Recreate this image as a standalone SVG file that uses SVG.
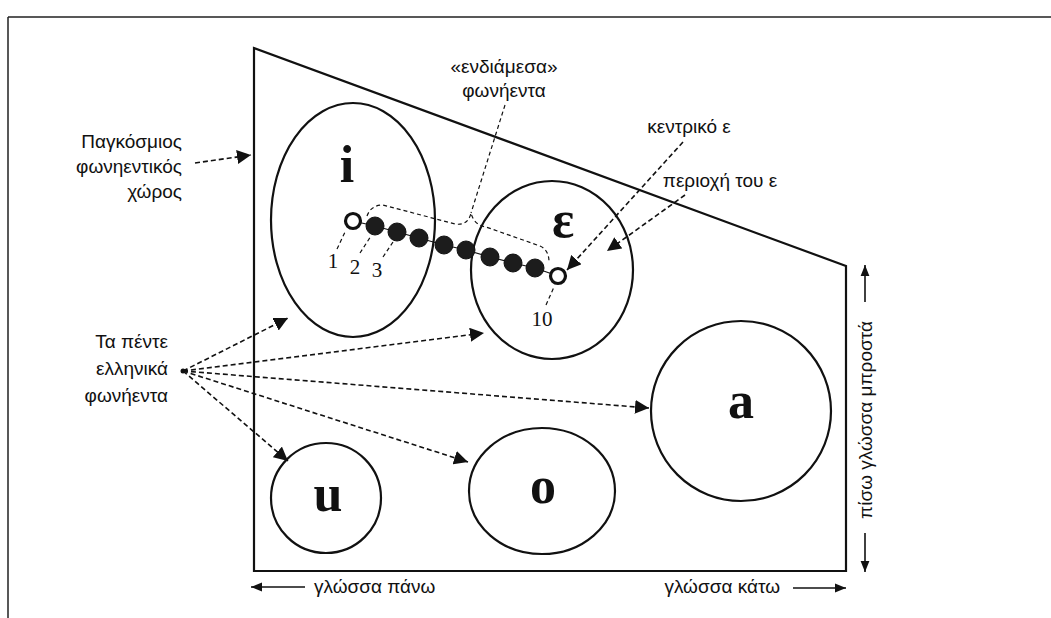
<svg xmlns="http://www.w3.org/2000/svg" width="1051" height="618" viewBox="0 0 1051 618">
<defs>
<style>
.sans{font-family:"Liberation Sans","Noto Sans",sans-serif;font-size:19px;fill:#111}
.ser{font-family:"Liberation Serif","DejaVu Serif",serif;fill:#111}
.big{font-size:52px;font-weight:bold}
.num{font-size:21px}
.shape{fill:none;stroke:#111;stroke-width:2.2}
.dash{fill:none;stroke:#111;stroke-width:1.6;stroke-dasharray:5 3}
.thin{fill:none;stroke:#111;stroke-width:1.2;stroke-dasharray:4 3}
.axis{fill:none;stroke:#111;stroke-width:1.6}
.open{fill:#fff;stroke:#111;stroke-width:3.2}
.fill{fill:#1c1c1c;stroke:#111;stroke-width:1}
</style>
<marker id="ah" viewBox="0 0 10 10" refX="10" refY="5" markerWidth="14" markerHeight="14" markerUnits="userSpaceOnUse" orient="auto">
<path d="M0,0 L10,5 L0,10 z" fill="#111"/>
</marker>
<marker id="ahs" viewBox="0 0 10 10" refX="10" refY="5" markerWidth="11" markerHeight="11" markerUnits="userSpaceOnUse" orient="auto">
<path d="M0,1 L10,5 L0,9 z" fill="#111"/>
</marker>
</defs>
<rect width="1051" height="618" fill="#fff"/>
<g id="frame">
<path d="M8,17 H1051 M8,17 V618" fill="none" stroke="#222" stroke-width="1.5"/>
</g>
<g id="space">
<polygon class="shape" points="254,48 846,266 846,571 254,571" stroke-width="2.4"/>
</g>
<g id="vowel-i">
<ellipse class="shape" cx="353" cy="220" rx="82" ry="117"/>
<text class="ser big" x="347" y="182" text-anchor="middle">i</text>
</g>
<g id="vowel-e">
<ellipse class="shape" cx="552" cy="270" rx="81" ry="89"/>
<text class="ser big" x="563" y="237" text-anchor="middle">ε</text>
</g>
<g id="vowel-a">
<circle class="shape" cx="741" cy="411" r="90"/>
<text class="ser big" x="741" y="418" text-anchor="middle">a</text>
</g>
<g id="vowel-o">
<ellipse class="shape" cx="542" cy="491" rx="73" ry="63"/>
<text class="ser big" x="543" y="503" text-anchor="middle">o</text>
</g>
<g id="vowel-u">
<circle class="shape" cx="326" cy="498" r="55"/>
<text class="ser big" x="328" y="511" text-anchor="middle">u</text>
</g>
<g id="chain">
<polyline points="353,221 375,226 397,232 419,238 444,245 466,250 490,257 513,263 535,268 558,276" fill="none" stroke="#111" stroke-width="1.2"/>
<circle class="fill" cx="375" cy="226" r="9"/>
<circle class="fill" cx="397" cy="232" r="9"/>
<circle class="fill" cx="419" cy="238" r="9"/>
<circle class="fill" cx="444" cy="245" r="9"/>
<circle class="fill" cx="466" cy="250" r="9"/>
<circle class="fill" cx="490" cy="257" r="9"/>
<circle class="fill" cx="513" cy="263" r="9"/>
<circle class="fill" cx="535" cy="268" r="9"/>
<circle class="open" cx="353" cy="221" r="7.5"/>
<circle class="open" cx="558" cy="276" r="7.5"/>
<path class="thin" d="M337,249 L346,230 M360,253 L371,236 M383,257 L393,242 M546,305 L554,287"/>
<text class="ser num" x="333" y="268" text-anchor="middle">1</text>
<text class="ser num" x="355" y="274" text-anchor="middle">2</text>
<text class="ser num" x="377" y="277" text-anchor="middle">3</text>
<text class="ser num" x="542" y="326" text-anchor="middle">10</text>
</g>
<g id="labels">
<text class="sans" x="504" y="73" text-anchor="middle">«ενδιάμεσα»</text>
<text class="sans" x="504" y="97" text-anchor="middle">φωνήεντα</text>
<text class="sans" x="182" y="148" text-anchor="end">Παγκόσμιος</text>
<text class="sans" x="182" y="173" text-anchor="end">φωνηεντικός</text>
<text class="sans" x="182" y="198" text-anchor="end">χώρος</text>
<text class="sans" x="168" y="348" text-anchor="end">Τα πέντε</text>
<text class="sans" x="168" y="375" text-anchor="end">ελληνικά</text>
<text class="sans" x="168" y="402" text-anchor="end">φωνήεντα</text>
<text class="sans" x="689" y="133" text-anchor="middle">κεντρικό ε</text>
<text class="sans" x="720" y="187" text-anchor="middle">περιοχή του ε</text>
<text class="sans" x="314" y="593">γλώσσα πάνω</text>
<text class="sans" x="780" y="593" text-anchor="end">γλώσσα κάτω</text>
<text class="sans" transform="translate(872,420) rotate(-90)" text-anchor="middle">πίσω γλώσσα μπροστά</text>
</g>
<g id="connectors">
<path class="thin" d="M367,216 Q371,205 383,205 L455,224 Q468,226 471,213 Q474,225 486,227 L540,246 Q549,250 549,262"/>
<path class="thin" d="M505,105 L471,213"/>
<path class="dash" d="M195,163 L251,155" marker-end="url(#ah)"/>
<circle cx="183" cy="371" r="2.5" fill="#111"/>
<path class="dash" d="M183,371 L288,318" marker-end="url(#ah)"/>
<path class="dash" d="M183,371 L484,333" marker-end="url(#ah)"/>
<path class="dash" d="M183,371 L649,408" marker-end="url(#ah)"/>
<path class="dash" d="M183,371 L468,462" marker-end="url(#ah)"/>
<path class="dash" d="M183,371 L288,461" marker-end="url(#ah)"/>
<path class="dash" d="M683,142 L567,270" marker-end="url(#ah)"/>
<path class="dash" d="M685,195 L607,251" marker-end="url(#ah)"/>
<path class="axis" d="M305,587 L251,587" marker-end="url(#ahs)"/>
<path class="axis" d="M793,588 L846,588" marker-end="url(#ahs)"/>
<path class="axis" d="M865,302 L865,265" marker-end="url(#ahs)"/>
<path class="axis" d="M865,533 L865,572" marker-end="url(#ahs)"/>
</g>
</svg>
